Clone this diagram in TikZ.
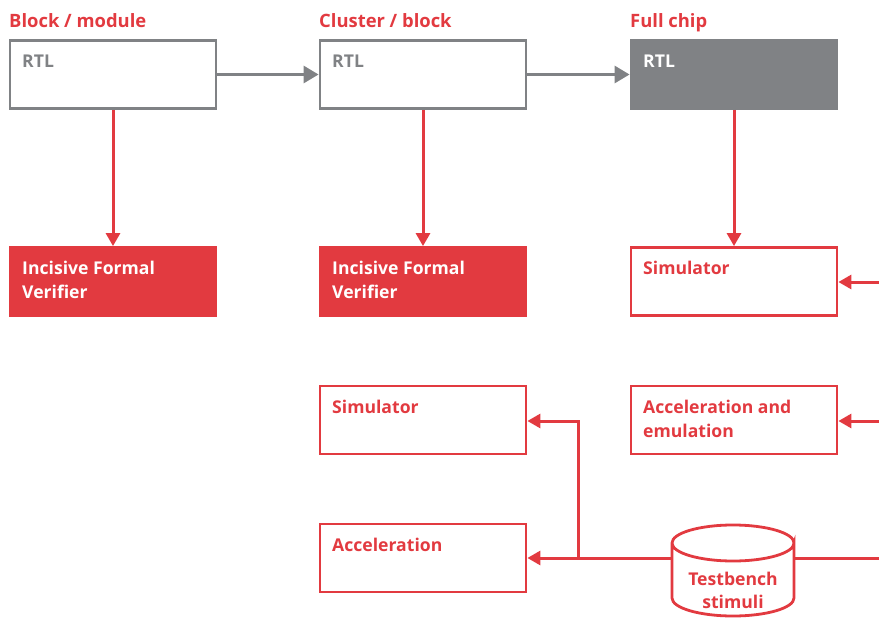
\documentclass[tikz,border=0pt]{standalone}
\usepackage{fontspec}
\setmainfont{Open Sans}
\usetikzlibrary{arrows.meta}
\definecolor{cred}{HTML}{E23A40}
\definecolor{cgray}{HTML}{808285}
\begin{document}
\begin{tikzpicture}[x=1pt,y=-1pt,
  box/.style={draw=#1,line width=2.8pt,minimum width=206pt,minimum height=68pt,inner sep=0pt},
  lbl/.style={anchor=north west,align=left,font=\bfseries\fontsize{17.6}{24}\selectfont,text=#1,inner sep=0pt},
  ttl/.style={anchor=base west,font=\bfseries\fontsize{18.4}{20}\selectfont,text=cred,inner sep=0pt},
  rarr/.style={draw=cred,line width=3pt,-{Triangle[length=13pt,width=14pt]}},
  garr/.style={draw=cgray,line width=3pt,-{Triangle[length=15pt,width=17pt]}},
  rline/.style={draw=cred,line width=3pt}]
\useasboundingbox (0,0) rectangle (879,618);
% titles
\node[ttl] (t1) at (9,28) {Block / module};
\node[ttl] (t2) at (319,28) {Cluster / block};
\node[ttl] (t3) at (630,28) {Full chip};
% RTL boxes
\node[box=cgray] (r1) at (113,74.5) {};
\node[box=cgray] (r2) at (423,74.5) {};
\node[box=cgray,fill=cgray] (r3) at (734,74.5) {};
\node[lbl=cgray] (r1t) at (22,55) {RTL};
\node[lbl=cgray] (r2t) at (332,55) {RTL};
\node[lbl=white] (r3t) at (643,55) {RTL};
% row 2
\node[box=cred,fill=cred] (f1) at (113,281.5) {};
\node[box=cred,fill=cred] (f2) at (423,281.5) {};
\node[box=cred] (s3) at (734,281.5) {};
\node[lbl=white] (f1t) at (22,261) {Incisive Formal\\Verifier};
\node[lbl=white] (f2t) at (332,261) {Incisive Formal\\Verifier};
\node[lbl=cred] (s3t) at (643,261) {Simulator};
% row 3
\node[box=cred] (s2) at (423,420) {};
\node[box=cred] (ae) at (734,420) {};
\node[lbl=cred] (s2t) at (332,400) {Simulator};
\node[lbl=cred] (aet) at (643,400) {Acceleration and\\emulation};
% row 4
\node[box=cred] (a2) at (423,558) {};
\node[lbl=cred] (a2t) at (332,538) {Acceleration};
% cylinder
\coordinate (cl) at (672,558);
\coordinate (cr) at (794,558);
\draw[cred,line width=2.8pt,fill=white] (672,543) -- (672,598) arc[start angle=180,end angle=0,x radius=61,y radius=18] -- (794,543) arc[start angle=0,end angle=360,x radius=61,y radius=18];
\node[font=\bfseries\fontsize{17.6}{23}\selectfont,text=cred,align=center] (tb) at (733,590) {Testbench\\stimuli};
% gray arrows
\draw[garr] (r1.east) -- (r2.west);
\draw[garr] (r2.east) -- (r3.west);
% red down arrows
\draw[rarr] (r1.south) -- (f1.north);
\draw[rarr] (r2.south) -- (f2.north);
\draw[rarr] (r3.south) -- (s3.north);
% right arrows
\coordinate (e1) at (879,282);
\coordinate (e2) at (879,421);
\coordinate (e3) at (879,558);
\draw[rarr] (e1) -- (s3.east|-e1);
\draw[rarr] (e2) -- (ae.east|-e2);
\draw[rline] (cr) -- (e3);
% testbench to accel
\coordinate (br) at (578,558);
\draw[rarr] (cl) -- (a2.east);
\draw[rarr] (br) -- (578,421) -- (s2.east|-0,421);
\end{tikzpicture}
\end{document}
